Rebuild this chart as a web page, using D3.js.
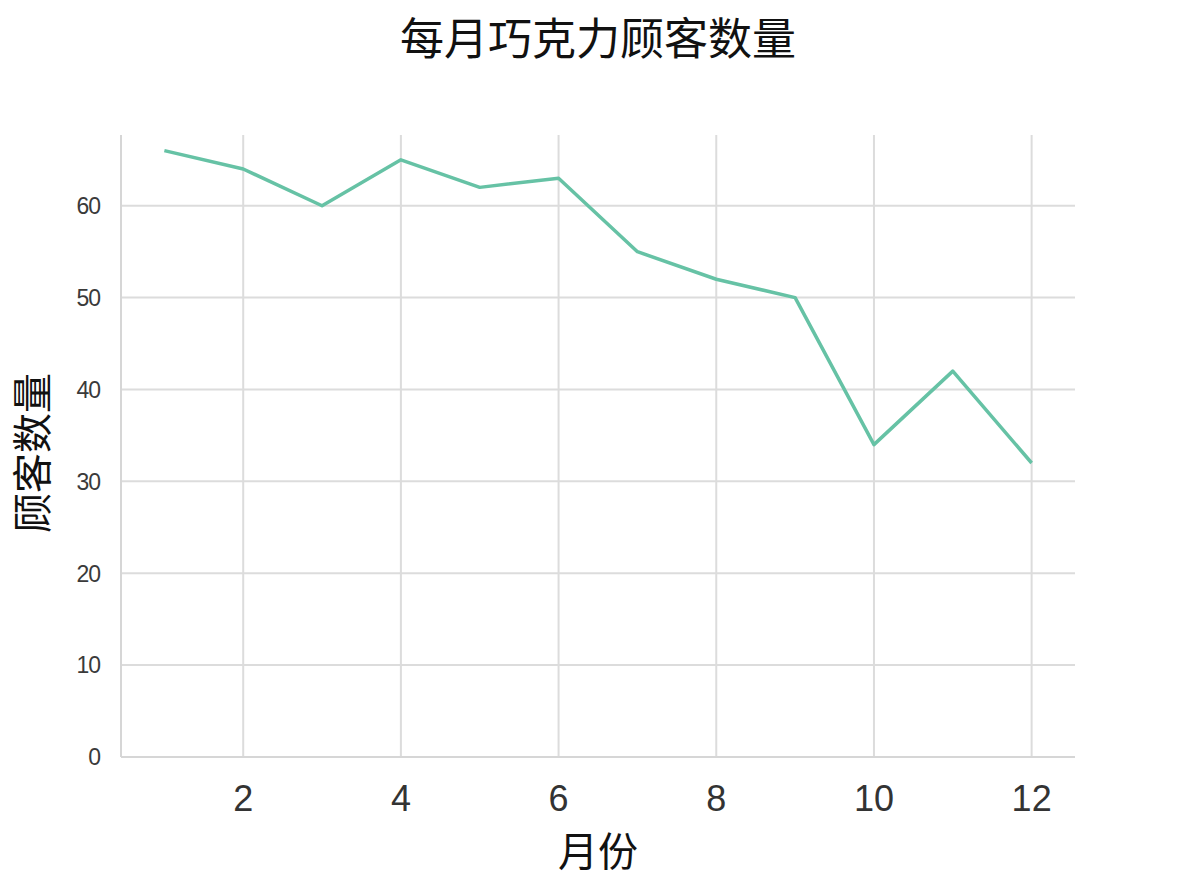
<!DOCTYPE html>
<html>
<head>
<meta charset="utf-8">
<script src="https://cdn.jsdelivr.net/npm/d3@7"></script>
<style>
  body { margin: 0; background: #fff; }
  text { font-family: "Noto Sans CJK SC", "DejaVu Sans", sans-serif; }
</style>
</head>
<body>
<svg width="1198" height="896"></svg>
<script>
// monthly chocolate customers
var months = [1, 2, 3, 4, 5, 6, 7, 8, 9, 10, 11, 12];
var customers = [66, 64, 60, 65, 62, 63, 55, 52, 50, 34, 42, 32];
var xTicks = [2, 4, 6, 8, 10, 12];
var yTicks = [0, 10, 20, 30, 40, 50, 60];

var svg = d3.select("svg");
var plotLeft = 121, plotRight = 1075, plotTop = 135, plotBottom = 757;

// matplotlib-like padding: 5% of the data span
var xPad = (d3.max(months) - d3.min(months)) * 0.05;
var x = d3.scaleLinear()
    .domain([d3.min(months) - xPad, d3.max(months) + xPad])
    .range([plotLeft, plotRight]);
var yPad = (d3.max(customers) - d3.min(customers)) * 0.05;
var y = d3.scaleLinear()
    .domain([0, d3.max(customers) + yPad])
    .range([plotBottom, plotTop]);

// grid
svg.append("g")
    .selectAll("line")
    .data(yTicks)
    .enter().append("line")
    .attr("x1", plotLeft).attr("x2", plotRight)
    .attr("y1", function(d) { return y(d); })
    .attr("y2", function(d) { return y(d); })
    .attr("stroke", "#dcdcdc").attr("stroke-width", 2);

svg.append("g")
    .selectAll("line")
    .data(xTicks)
    .enter().append("line")
    .attr("x1", function(d) { return x(d); })
    .attr("x2", function(d) { return x(d); })
    .attr("y1", plotTop).attr("y2", plotBottom)
    .attr("stroke", "#dcdcdc").attr("stroke-width", 2);

// spines (left + bottom only)
svg.append("line")
    .attr("x1", plotLeft).attr("x2", plotLeft).attr("y1", plotTop).attr("y2", plotBottom)
    .attr("stroke", "#d6d6d6").attr("stroke-width", 2);
svg.append("line")
    .attr("x1", plotLeft).attr("x2", plotRight).attr("y1", plotBottom).attr("y2", plotBottom)
    .attr("stroke", "#d6d6d6").attr("stroke-width", 2);

// tick labels
svg.append("g")
    .selectAll("text")
    .data(yTicks)
    .enter().append("text")
    .attr("x", 100)
    .attr("y", function(d) { return y(d); })
    .attr("dy", "0.36em")
    .attr("text-anchor", "end")
    .attr("font-size", 23)
    .attr("letter-spacing", -1)
    .attr("fill", "#3a3a3a")
    .style("font-family", "'Liberation Sans', Arial, sans-serif")
    .text(function(d) { return d; });

svg.append("g")
    .selectAll("text")
    .data(xTicks)
    .enter().append("text")
    .attr("x", function(d) { return x(d); })
    .attr("y", 811)
    .attr("text-anchor", "middle")
    .attr("font-size", 36)
    .attr("fill", "#333")
    .style("font-family", "'Liberation Sans', Arial, sans-serif")
    .text(function(d) { return d; });

// the line
var line = d3.line()
    .x(function(d, i) { return x(months[i]); })
    .y(function(d) { return y(d); });

svg.append("path")
    .datum(customers)
    .attr("d", line)
    .attr("fill", "none")
    .attr("stroke", "#66c2a5")
    .attr("stroke-width", 3.5)
    .attr("stroke-linejoin", "round");

// titles
svg.append("text")
    .attr("x", 598).attr("y", 55)
    .attr("text-anchor", "middle")
    .attr("font-size", 44)
    .attr("fill", "#111")
    .text("每月巧克力顾客数量");

svg.append("text")
    .attr("x", 598).attr("y", 866)
    .attr("text-anchor", "middle")
    .attr("font-size", 40)
    .attr("fill", "#111")
    .text("月份");

svg.append("text")
    .attr("transform", "translate(47,453) rotate(-90)")
    .attr("text-anchor", "middle")
    .attr("font-size", 40)
    .attr("fill", "#111")
    .text("顾客数量");
</script>
</body>
</html>
